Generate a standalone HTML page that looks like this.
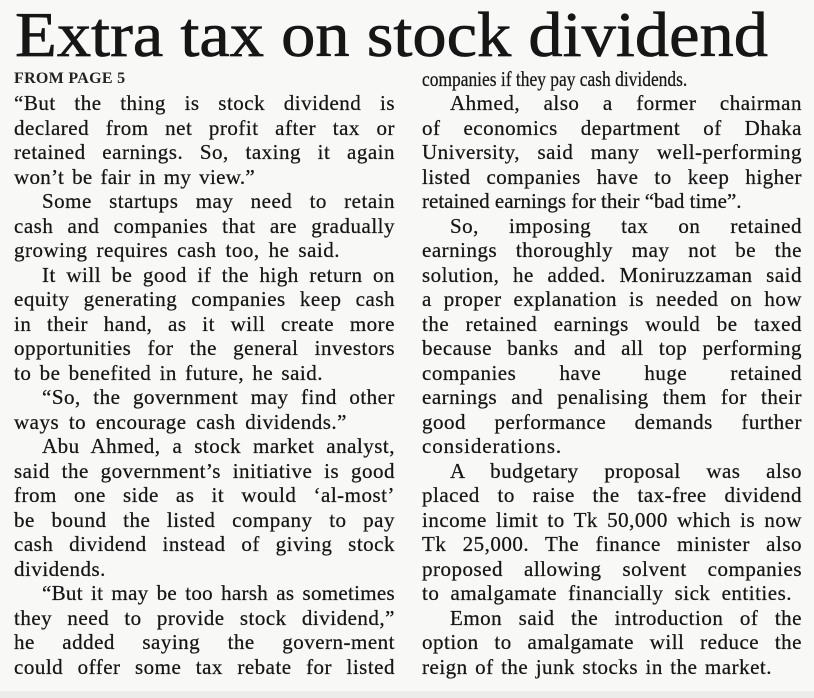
<!DOCTYPE html>
<html>
<head>
<meta charset="utf-8">
<style>
html,body{margin:0;padding:0;}
body{width:814px;height:698px;background:#f8f8f6;position:relative;overflow:hidden;}
.col{position:absolute;top:66.6px;font-family:"Liberation Serif",serif;font-size:21px;line-height:24.53px;color:#161616;letter-spacing:0.5px;-webkit-text-stroke:0.25px #161616;}
.col div{height:24.53px;white-space:nowrap;overflow:visible;}
.j{text-align:justify;text-align-last:justify;white-space:normal !important;}
.i{margin-left:28px;}
.fp{font-size:16px;font-weight:bold;letter-spacing:0.3px;color:#222;-webkit-text-stroke:0;}
.band{position:absolute;left:0;top:691px;width:814px;height:7px;background:#ececea;}
</style>
</head>
<body>
<svg width="814" height="70" style="position:absolute;left:0;top:0">
<text x="15" y="56" font-family="Liberation Serif, serif" font-size="64" fill="#161616" stroke="#161616" stroke-width="0.7" textLength="753" lengthAdjust="spacingAndGlyphs">Extra tax on stock dividend</text>
</svg>

<div class="col" style="left:14px;width:381px;">
<div class="fp">FROM PAGE 5</div>
<div class="j" style="width:381px">“But the thing is stock dividend is</div>
<div class="j" style="width:381px">declared from net profit after tax or</div>
<div class="j" style="width:381px">retained earnings. So, taxing it again</div>
<div class="j" style="width:241px;letter-spacing:0.3px">won’t be fair in my view.”</div>
<div class="j i" style="width:353px">Some startups may need to retain</div>
<div class="j" style="width:381px">cash and companies that are gradually</div>
<div class="j" style="width:326px">growing requires cash too, he said.</div>
<div class="j i" style="width:353px">It will be good if the high return on</div>
<div class="j" style="width:381px">equity generating companies keep cash</div>
<div class="j" style="width:381px">in their hand, as it will create more</div>
<div class="j" style="width:381px">opportunities for the general investors</div>
<div class="j" style="width:309px">to be benefited in future, he said.</div>
<div class="j i" style="width:353px">“So, the government may find other</div>
<div class="j" style="width:333px">ways to encourage cash dividends.”</div>
<div class="j i" style="width:353px">Abu Ahmed, a stock market analyst,</div>
<div class="j" style="width:381px">said the government’s initiative is good</div>
<div class="j" style="width:381px">from one side as it would ‘al-most’</div>
<div class="j" style="width:381px">be bound the listed company to pay</div>
<div class="j" style="width:381px">cash dividend instead of giving stock</div>
<div style="width:381px">dividends.</div>
<div class="j i" style="width:353px;letter-spacing:0.3px">“But it may be too harsh as sometimes</div>
<div class="j" style="width:381px">they need to provide stock dividend,”</div>
<div class="j" style="width:381px">he added saying the govern-ment</div>
<div class="j" style="width:381px">could offer some tax rebate for listed</div>
</div>

<div class="col" style="left:422px;width:380px;">
<div><span style="display:inline-block;letter-spacing:0;transform:scaleX(0.83);transform-origin:0 0;">companies if they pay cash dividends.</span></div>
<div class="j i" style="width:352px">Ahmed, also a former chairman</div>
<div class="j" style="width:380px">of economics department of Dhaka</div>
<div class="j" style="width:380px">University, said many well-performing</div>
<div class="j" style="width:380px">listed companies have to keep higher</div>
<div style="letter-spacing:0">retained earnings for their “bad time”.</div>
<div class="j i" style="width:352px">So, imposing tax on retained</div>
<div class="j" style="width:380px">earnings thoroughly may not be the</div>
<div class="j" style="width:380px">solution, he added. Moniruzzaman said</div>
<div class="j" style="width:380px">a proper explanation is needed on how</div>
<div class="j" style="width:380px">the retained earnings would be taxed</div>
<div class="j" style="width:380px">because banks and all top performing</div>
<div class="j" style="width:380px">companies have huge retained</div>
<div class="j" style="width:380px">earnings and penalising them for their</div>
<div class="j" style="width:380px">good performance demands further</div>
<div style="width:380px;letter-spacing:0.9px">considerations.</div>
<div class="j i" style="width:352px">A budgetary proposal was also</div>
<div class="j" style="width:380px">placed to raise the tax-free dividend</div>
<div class="j" style="width:380px">income limit to Tk 50,000 which is now</div>
<div class="j" style="width:380px">Tk 25,000. The finance minister also</div>
<div class="j" style="width:380px">proposed allowing solvent companies</div>
<div class="j" style="width:370px">to amalgamate financially sick entities.</div>
<div class="j i" style="width:352px">Emon said the introduction of the</div>
<div class="j" style="width:380px">option to amalgamate will reduce the</div>
<div class="j" style="width:350px">reign of the junk stocks in the market.</div>
</div>

<div class="band"></div>
</body>
</html>
